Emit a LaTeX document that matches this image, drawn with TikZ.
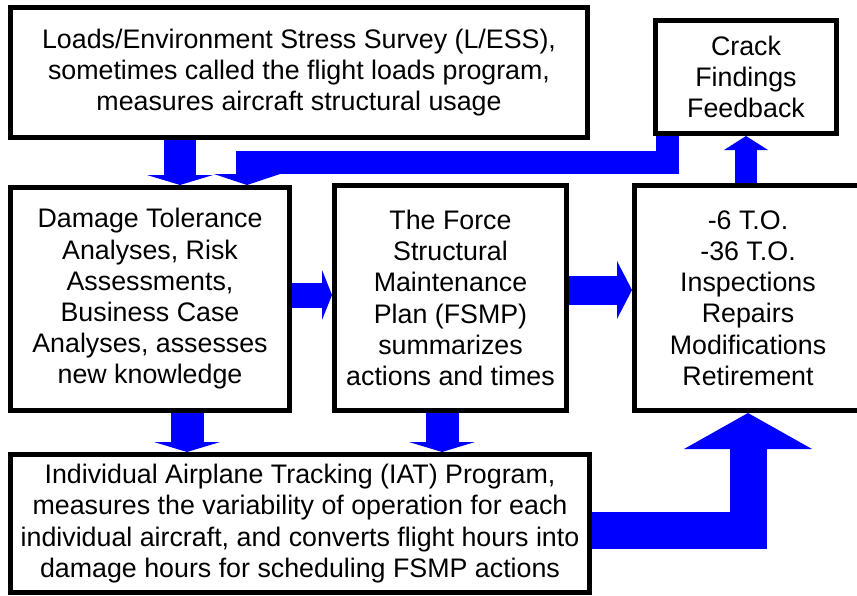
\documentclass[tikz,border=0pt]{standalone}
\usepackage{fontspec}
\setmainfont{Liberation Sans}
\usetikzlibrary{arrows.meta}
\definecolor{arrowblue}{RGB}{0,0,255}

\begin{document}
\begin{tikzpicture}[x=1pt, y=-1pt,
    box/.style={draw, line width=5pt, align=center, inner sep=0pt,
        font=\fontsize{26.8}{31.2}\selectfont},
    flow/.style={draw=arrowblue, line width=#1, line join=miter, line cap=butt},
    blockhead/.style 2 args={-{Triangle[width=#1, length=#2, line width=0pt]}}]
    \useasboundingbox (0,0) rectangle (857,595);

    % Draw the boxes
    \node[box, minimum width=577pt, minimum height=130pt] (les) at (299,72.5)
        {Loads/Environment Stress Survey (L/ESS),\\ sometimes called the flight loads program,\\ measures aircraft structural usage};
    \node[box, minimum width=181pt, minimum height=113pt] (crack) at (746,77)
        {Crack\\ Findings\\ Feedback};
    \node[box, minimum width=279pt, minimum height=223pt] (dta) at (150,299)
        {Damage Tolerance\\ Analyses, Risk\\ Assessments,\\ Business Case\\ Analyses, assesses\\ new knowledge};
    \node[box, minimum width=232pt, minimum height=225pt] (fsmp) at (450.5,298)
        {The Force\\ Structural\\ Maintenance\\ Plan (FSMP)\\ summarizes\\ actions and times};
    \node[box, minimum width=227pt, minimum height=225pt] (to) at (748,298)
        {-6 T.O.\\ -36 T.O.\\ Inspections\\ Repairs\\ Modifications\\ Retirement};
    \node[box, minimum width=579pt, minimum height=138pt] (iat) at (300,523.5)
        {Individual Airplane Tracking (IAT) Program,\\ measures the variability of operation for each\\ individual aircraft, and converts flight hours into\\ damage hours for scheduling FSMP actions};

    % Draw the block arrows
    \coordinate (bend) at (247,162);
    \draw[flow=32pt, blockhead={66pt}{10pt}] (les.south -| 180,0) -- (dta.north -| 180,0);
    \draw[flow=23pt, blockhead={66pt}{11pt}] ([xshift=14pt]crack.south west) |- (bend) -- (bend |- dta.north);
    \draw[flow=25pt, blockhead={50pt}{10pt}] (dta.east |- 0,295) -- (fsmp.west |- 0,295);
    \draw[flow=29pt, blockhead={58pt}{15pt}] (fsmp.east |- 0,290) -- (to.west |- 0,290);
    \draw[flow=22pt, blockhead={44pt}{14pt}] (to.north -| crack.south) -- (crack.south);
    \draw[flow=33pt, blockhead={66pt}{10pt}] (dta.south -| 187,0) -- (iat.north -| 187,0);
    \draw[flow=33pt, blockhead={66pt}{10pt}] (fsmp.south -| 442,0) -- (iat.north -| 442,0);
    \draw[flow=37pt, blockhead={128pt}{36pt}] (iat.east |- 0,530) -| (to.south);
\end{tikzpicture}
\end{document}
